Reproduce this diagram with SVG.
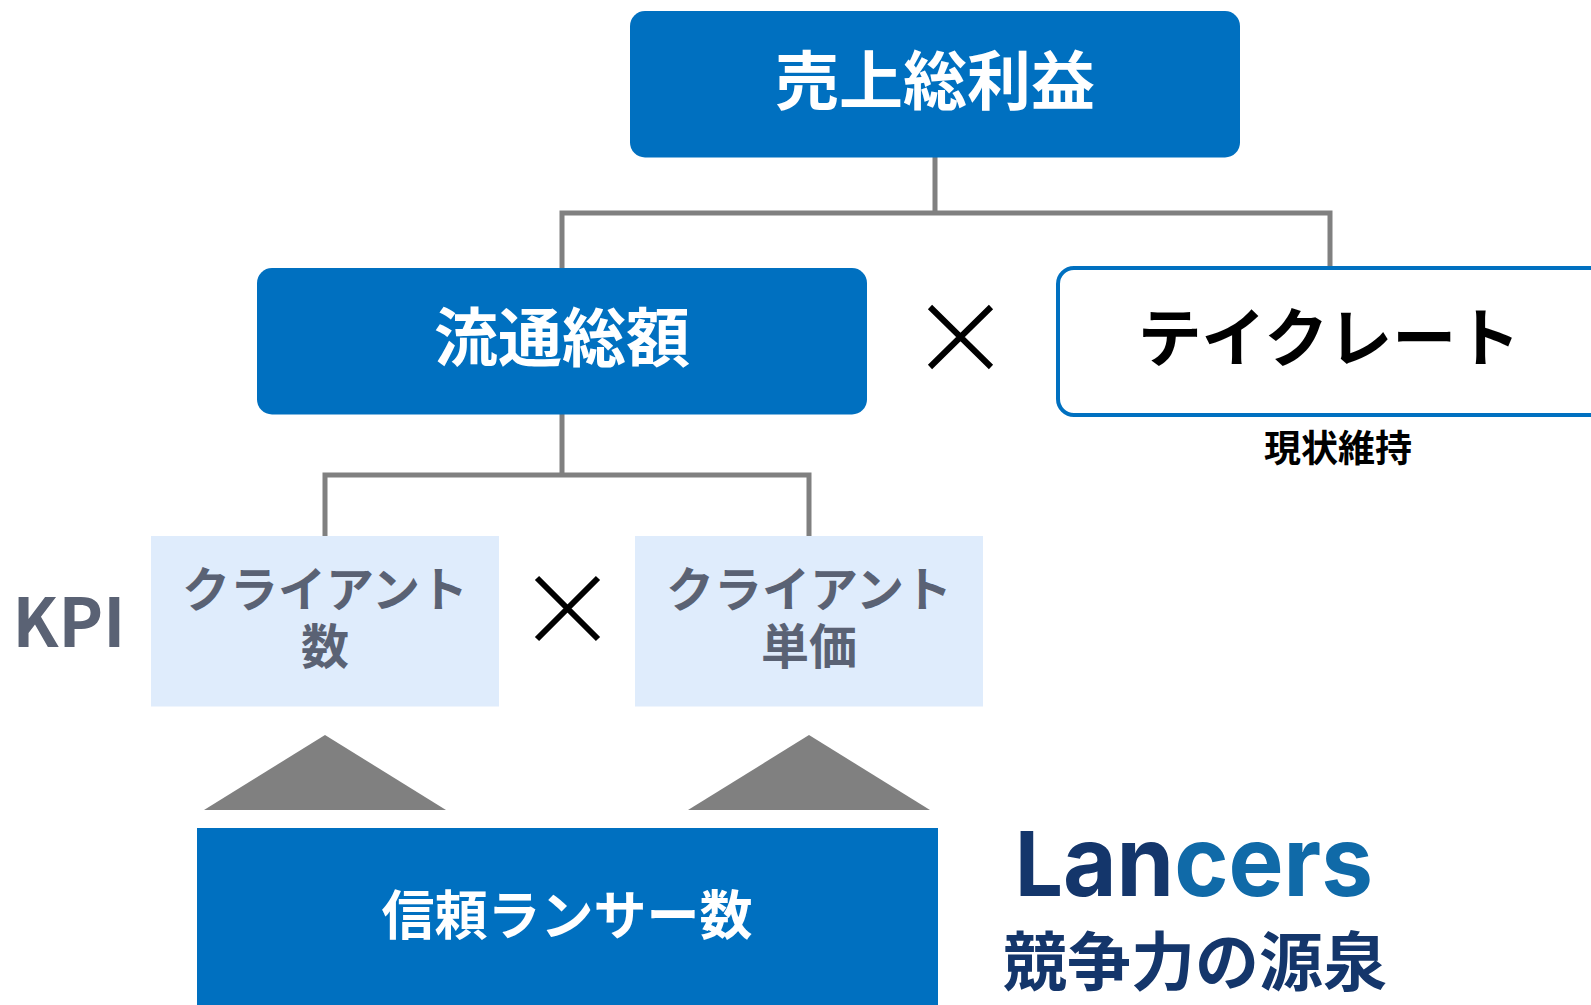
<svg xmlns="http://www.w3.org/2000/svg" width="1591" height="1005" viewBox="0 0 1591 1005">
<style>
text{font-family:"Noto Sans CJK JP","Noto Sans",sans-serif;font-weight:700;text-anchor:middle}
.b{fill:#0070c0}
.w{fill:#fff;font-size:64px}
.k{fill:#dfecfc}
.g{fill:#5a6274;font-size:48px}
.c{fill:none;stroke:#808080;stroke-width:5}
.x{fill:none;stroke:#000;stroke-width:6}
.t{fill:#808080}
</style>
<rect width="1591" height="1005" fill="#fff"/>
<g id="connectors">
<path class="c" d="M935 157V213M562 268V213H1330V268"/>
<path class="c" d="M562 414V475M325 536V475H809V536"/>
</g>
<g id="node-gross-profit"><rect class="b" x="630" y="11" width="610" height="146.500" rx="15"/><text class="w" x="935" y="104">売上総利益</text></g>
<g id="node-gmv"><rect class="b" x="257" y="268" width="610" height="146.500" rx="15"/><text class="w" x="562" y="361">流通総額</text></g>
<g id="times-1"><path class="x" d="M930 307L991 367M991 307L930 367"/></g>
<g id="node-take-rate"><rect x="1058" y="268" width="600" height="147" rx="16" fill="#fff" stroke="#0070c0" stroke-width="4"/><text x="1329" y="361" font-size="64" fill="#000">テイクレート</text></g>
<g id="label-keep"><text x="1338" y="462" font-size="37" fill="#000">現状維持</text></g>
<g id="label-kpi"><text x="69" y="647" font-size="67" fill="#5a6274">KPI</text></g>
<g id="node-client-count"><rect class="k" x="151" y="536" width="348" height="170.500"/><text class="g" x="325" y="607">クライアント</text><text class="g" x="325" y="664">数</text></g>
<g id="times-2"><path class="x" d="M537 578L598 639M598 578L537 639"/></g>
<g id="node-client-price"><rect class="k" x="635" y="536" width="348" height="170.500"/><text class="g" x="809" y="607">クライアント</text><text class="g" x="809" y="664">単価</text></g>
<polygon id="triangle-1" class="t" points="325,735 446,810 204,810"/>
<polygon id="triangle-2" class="t" points="809,735 930,810 688,810"/>
<g id="node-lancers-count"><rect class="b" x="197" y="828" width="741" height="177"/><text x="567" y="935" font-size="53" fill="#fff">信頼ランサー数</text></g>
<g id="logo"><text x="1194" y="896" textLength="358" lengthAdjust="spacingAndGlyphs" style="font-family:Inter,'Noto Sans',sans-serif;font-weight:700"><tspan fill="#14366b" font-size="89">L</tspan><tspan fill="#14366b" font-size="97">an</tspan><tspan fill="#106aa8" font-size="97">cers</tspan></text></g>
<g id="label-source"><text x="1195" y="985" font-size="64" fill="#14366b">競争力の源泉</text></g>
</svg>
